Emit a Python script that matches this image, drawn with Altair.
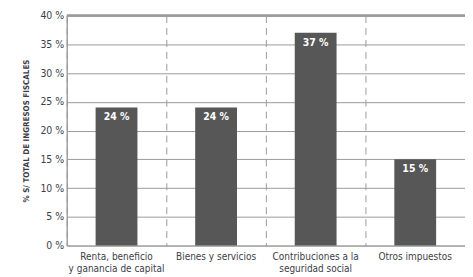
import altair as alt
import pandas as pd

categories = ["Renta, beneficio\ny ganancia de capital", "Bienes y servicios",
              "Contribuciones a la\nseguridad social", "Otros impuestos"]
values = [24, 24, 37, 15]
labels = ["24 %", "24 %", "37 %", "15 %"]
y_ticks = [0, 5, 10, 15, 20, 25, 30, 35, 40]

df = pd.DataFrame({"cat": categories, "val": values, "lab": labels})

FONT = "'DejaVu Sans Condensed', 'Liberation Sans Narrow', 'Liberation Sans', sans-serif"
GRAY = "#9a9a9a"
TXT = "#3d3d48"
YTITLE = "% S/ TOTAL DE INGRESOS FISCALES"

xs = alt.Scale(paddingInner=0, paddingOuter=0)
ys = alt.Scale(domain=[0, 40], nice=False)

xaxis = alt.Axis(labelAngle=0, domain=False, ticks=False, grid=True,
                 gridDash=[7, 5], gridColor=GRAY, gridWidth=1,
                 bandPosition=0, labelPadding=6,
                 labelExpr="split(datum.label, '\\n')",
                 labelFont=FONT, labelFontSize=10, labelColor=TXT,
                 labelLineHeight=12)
yaxis = alt.Axis(values=y_ticks, labelExpr="datum.value + ' %'",
                 labelOverlap=False,
                 grid=True, gridColor=GRAY, gridWidth=1,
                 domain=True, domainColor=GRAY, ticks=False,
                 labelPadding=3, labelFont=FONT, labelFontSize=10.5,
                 labelColor=TXT, titleFont=FONT, titleFontSize=8,
                 titleFontWeight="bold", titleColor=TXT,
                 titleX=-36, titleAnchor="middle")

base = alt.Chart(df).encode(
    x=alt.X("cat:N", sort=categories, title=None, scale=xs, axis=xaxis),
    y=alt.Y("val:Q", title=YTITLE, scale=ys, axis=yaxis),
)
bars = base.mark_bar(size=42, color="#575757")
text = base.mark_text(baseline="top", dy=5, color="white",
                      font=FONT, fontSize=10.5, fontWeight="bold").encode(text="lab:N")
top = alt.Chart(pd.DataFrame({"v": [max(y_ticks)]})).mark_rule(
    color=GRAY, strokeWidth=2.5).encode(
    y=alt.Y("v:Q", title=YTITLE, scale=ys, axis=yaxis))

chart = (bars + text + top).properties(
    width=400, height=231,
    autosize=alt.AutoSizeParams(type="none"),
    padding={"left": 59, "top": 7, "right": 0, "bottom": 30},
).configure_view(stroke=GRAY, strokeWidth=1)

chart.save("out.html", embed_options={"renderer": "svg", "actions": False})
